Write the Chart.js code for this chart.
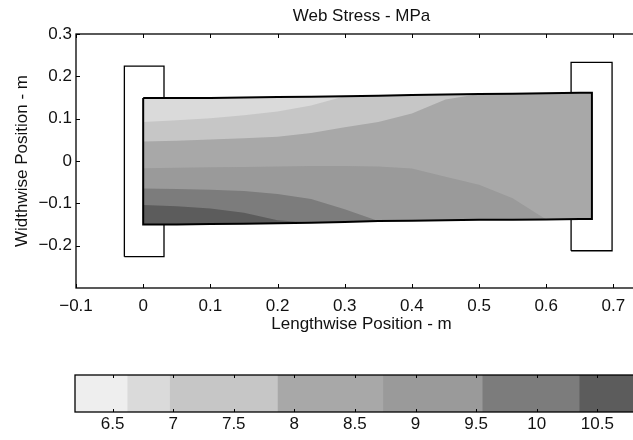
<!DOCTYPE html>
<html><head><meta charset="utf-8">
<script src="https://cdn.jsdelivr.net/npm/chart.js@4/dist/chart.umd.min.js"></script>
<style>
html,body{margin:0;padding:0;background:#fff;overflow:hidden;width:633px;height:440px;}
#wrap{position:relative;width:633px;height:440px;overflow:hidden;background:#fff;}
#main{position:absolute;left:0;top:0;}
#cbar{position:absolute;left:0;top:340px;}
</style></head><body>
<div id="wrap">
<canvas id="main" width="650" height="341"></canvas>
<canvas id="cbar" width="650" height="100"></canvas>
</div>
<script>
// ---------- DATA ----------
const xGrid     = [0, 0.05, 0.1, 0.15, 0.2, 0.25, 0.3, 0.35, 0.4, 0.45, 0.5, 0.55, 0.6, 0.65, 0.668];
const webTop    = [0.149, 0.149, 0.149, 0.150, 0.151, 0.152, 0.153, 0.154, 0.156, 0.157, 0.158, 0.159, 0.160, 0.161, 0.161];
const contourA  = [0.092, 0.096, 0.101, 0.108, 0.117, 0.131, 0.153, 0.154, 0.156, 0.157, 0.158, 0.159, 0.160, 0.161, 0.161];
const contourB  = [0.046, 0.048, 0.051, 0.054, 0.057, 0.066, 0.080, 0.092, 0.112, 0.145, 0.158, 0.159, 0.160, 0.161, 0.161];
const contourC  = [-0.017, -0.016, -0.015, -0.014, -0.013, -0.012, -0.012, -0.013, -0.018, -0.037, -0.056, -0.088, -0.138, -0.137, -0.137];
const contourD  = [-0.065, -0.066, -0.068, -0.071, -0.078, -0.090, -0.114, -0.142, -0.141, -0.140, -0.139, -0.139, -0.138, -0.137, -0.137];
const contourE  = [-0.104, -0.107, -0.112, -0.122, -0.140, -0.146, -0.144, -0.142, -0.141, -0.140, -0.139, -0.139, -0.138, -0.137, -0.137];
const webBottom = [-0.150, -0.150, -0.149, -0.148, -0.147, -0.146, -0.144, -0.142, -0.141, -0.140, -0.139, -0.139, -0.138, -0.137, -0.137];

const rollerLeftX  = [-0.028, -0.028, 0.031, 0.031, -0.028];
const rollerLeftY  = [-0.226, 0.224, 0.224, -0.226, -0.226];
const rollerRightX = [0.637, 0.637, 0.698, 0.698, 0.637];
const rollerRightY = [-0.212, 0.233, 0.233, -0.212, -0.212];

const xTicks  = [-0.1, 0, 0.1, 0.2, 0.3, 0.4, 0.5, 0.6, 0.7];
const yTicks  = [-0.2, -0.1, 0, 0.1, 0.2, 0.3];
const cbTicks = [6.5, 7, 7.5, 8, 8.5, 9, 9.5, 10, 10.5];
const cbLevels = [6.19, 6.62, 6.97, 7.86, 8.73, 9.55, 10.35, 10.91];

const titleText = 'Web Stress - MPa';
const xTitle = 'Lengthwise Position - m';
const yTitle = 'Widthwise Position - m';

// ---------- STYLE ----------
const grays = ['#eeeeee', '#dadada', '#c6c6c6', '#a8a8a8', '#9a9a9a', '#7c7c7c', '#5c5c5c'];
const FONT = "'Liberation Sans', Arial, Helvetica, sans-serif";
const FS = 17;
const INK = '#111';

const fmt = v => { const r = Math.round(v * 100) / 100; return (r < 0 ? '\u2212' : '') + String(Math.abs(r)); };
const pts = (xs, ys) => xs.map((x, i) => ({x: x, y: ys[i]}));

const frameTicks = {
  id: 'frameTicks',
  afterDraw(chart, args, opts) {
    const ctx = chart.ctx, a = chart.chartArea, L = opts.len || 4;
    ctx.save();
    ctx.strokeStyle = '#000';
    ctx.lineWidth = opts.lw || 1.3;
    ctx.strokeRect(a.left, a.top, a.right - a.left, a.bottom - a.top);
    ctx.lineWidth = 1;
    ctx.beginPath();
    const sx = chart.scales.x;
    sx.ticks.forEach(t => {
      const p = Math.round(sx.getPixelForValue(t.value)) + 0.5;
      ctx.moveTo(p, a.bottom); ctx.lineTo(p, a.bottom - L);
      ctx.moveTo(p, a.top); ctx.lineTo(p, a.top + L);
    });
    if (opts.yAxis) {
      const sy = chart.scales.y;
      sy.ticks.forEach(t => {
        const p = Math.round(sy.getPixelForValue(t.value)) + 0.5;
        ctx.moveTo(a.left, p); ctx.lineTo(a.left + L, p);
        ctx.moveTo(a.right, p); ctx.lineTo(a.right - L, p);
      });
    }
    ctx.stroke();
    ctx.restore();
  }
};

// ---------- MAIN CONTOUR CHART ----------
const outlinePts = pts(xGrid, webTop)
  .concat(pts(xGrid.slice().reverse(), webBottom.slice().reverse()))
  .concat([{x: xGrid[0], y: webTop[0]}]);

const bandCurves = [webTop, contourA, contourB, contourC, contourD, contourE];
const datasets = [];
datasets.push({ data: outlinePts, borderColor: '#000', borderWidth: 2, fill: false, order: 0 });
bandCurves.forEach((c, i) => {
  datasets.push({ data: pts(xGrid, c), borderColor: 'rgba(0,0,0,0)', borderWidth: 1,
                  backgroundColor: grays[i + 1], fill: 7, order: 7 - i });
});
datasets.push({ data: pts(xGrid, webBottom), borderColor: 'rgba(0,0,0,0)', borderWidth: 1, fill: false, order: 1 });
datasets.push({ data: pts(rollerLeftX, rollerLeftY), borderColor: '#000', borderWidth: 1.3, fill: false, order: 20 });
datasets.push({ data: pts(rollerRightX, rollerRightY), borderColor: '#000', borderWidth: 1.3, fill: false, order: 20 });

new Chart(document.getElementById('main'), {
  type: 'line',
  data: { datasets: datasets },
  plugins: [frameTicks],
  options: {
    responsive: false, animation: false, events: [],
    devicePixelRatio: 1,
    layout: { padding: { left: 0, right: 3, top: 0, bottom: 0 } },
    elements: { point: { radius: 0, hitRadius: 0, hoverRadius: 0 }, line: { tension: 0, borderJoinStyle: 'miter' } },
    plugins: {
      legend: { display: false }, tooltip: { enabled: false },
      title: { display: true, text: titleText, fullSize: false, color: INK,
               font: { family: FONT, size: FS, weight: 'normal' }, padding: { top: 6, bottom: 7.6 } },
      frameTicks: { len: 4, lw: 1.3, yAxis: true }
    },
    scales: {
      x: {
        type: 'linear', min: -0.1, max: 0.75,
        grid: { display: false, drawTicks: false, tickLength: 0 },
        border: { display: false },
        afterBuildTicks: s => { s.ticks = xTicks.map(v => ({ value: v })); },
        afterFit: s => { s.height = 53; },
        ticks: { autoSkip: false, maxRotation: 0, padding: 8, color: INK,
                 font: { family: FONT, size: FS }, callback: v => fmt(v) },
        title: { display: true, text: xTitle, color: INK, font: { family: FONT, size: FS },
                 padding: { top: 0, bottom: 6 } }
      },
      y: {
        type: 'linear', min: -0.3, max: 0.3,
        grid: { display: false, drawTicks: false, tickLength: 0 },
        border: { display: false },
        afterBuildTicks: s => { s.ticks = yTicks.map(v => ({ value: v })); },
        afterFit: s => { s.width = 76; },
        ticks: { autoSkip: false, padding: 4, color: INK,
                 font: { family: FONT, size: FS }, callback: v => fmt(v) },
        title: { display: true, text: yTitle, color: INK, font: { family: FONT, size: FS },
                 padding: { top: 12, bottom: 0 } }
      }
    }
  }
});

// ---------- COLORBAR ----------
const cbDatasets = [];
for (let i = 0; i < cbLevels.length - 1; i++) {
  cbDatasets.push({ data: [[cbLevels[i], cbLevels[i + 1]]], backgroundColor: grays[i],
                    borderWidth: 0, barPercentage: 1, categoryPercentage: 1, grouped: false });
}
new Chart(document.getElementById('cbar'), {
  type: 'bar',
  data: { labels: [''], datasets: cbDatasets },
  plugins: [frameTicks],
  options: {
    indexAxis: 'y',
    responsive: false, animation: false, events: [],
    devicePixelRatio: 1,
    layout: { padding: { left: 75, right: 3, top: 35, bottom: 0 } },
    plugins: { legend: { display: false }, tooltip: { enabled: false }, title: { display: false },
               frameTicks: { len: 3, lw: 1.3, yAxis: false } },
    scales: {
      x: {
        type: 'linear', min: cbLevels[0], max: cbLevels[cbLevels.length - 1],
        grid: { display: false, drawTicks: false, tickLength: 0 },
        border: { display: false },
        afterBuildTicks: s => { s.ticks = cbTicks.map(v => ({ value: v })); },
        afterFit: s => { s.height = 28; },
        ticks: { autoSkip: false, maxRotation: 0, padding: 2.5, color: INK,
                 font: { family: FONT, size: FS }, callback: v => fmt(v) }
      },
      y: { display: false }
    }
  }
});
</script>
</body></html>
